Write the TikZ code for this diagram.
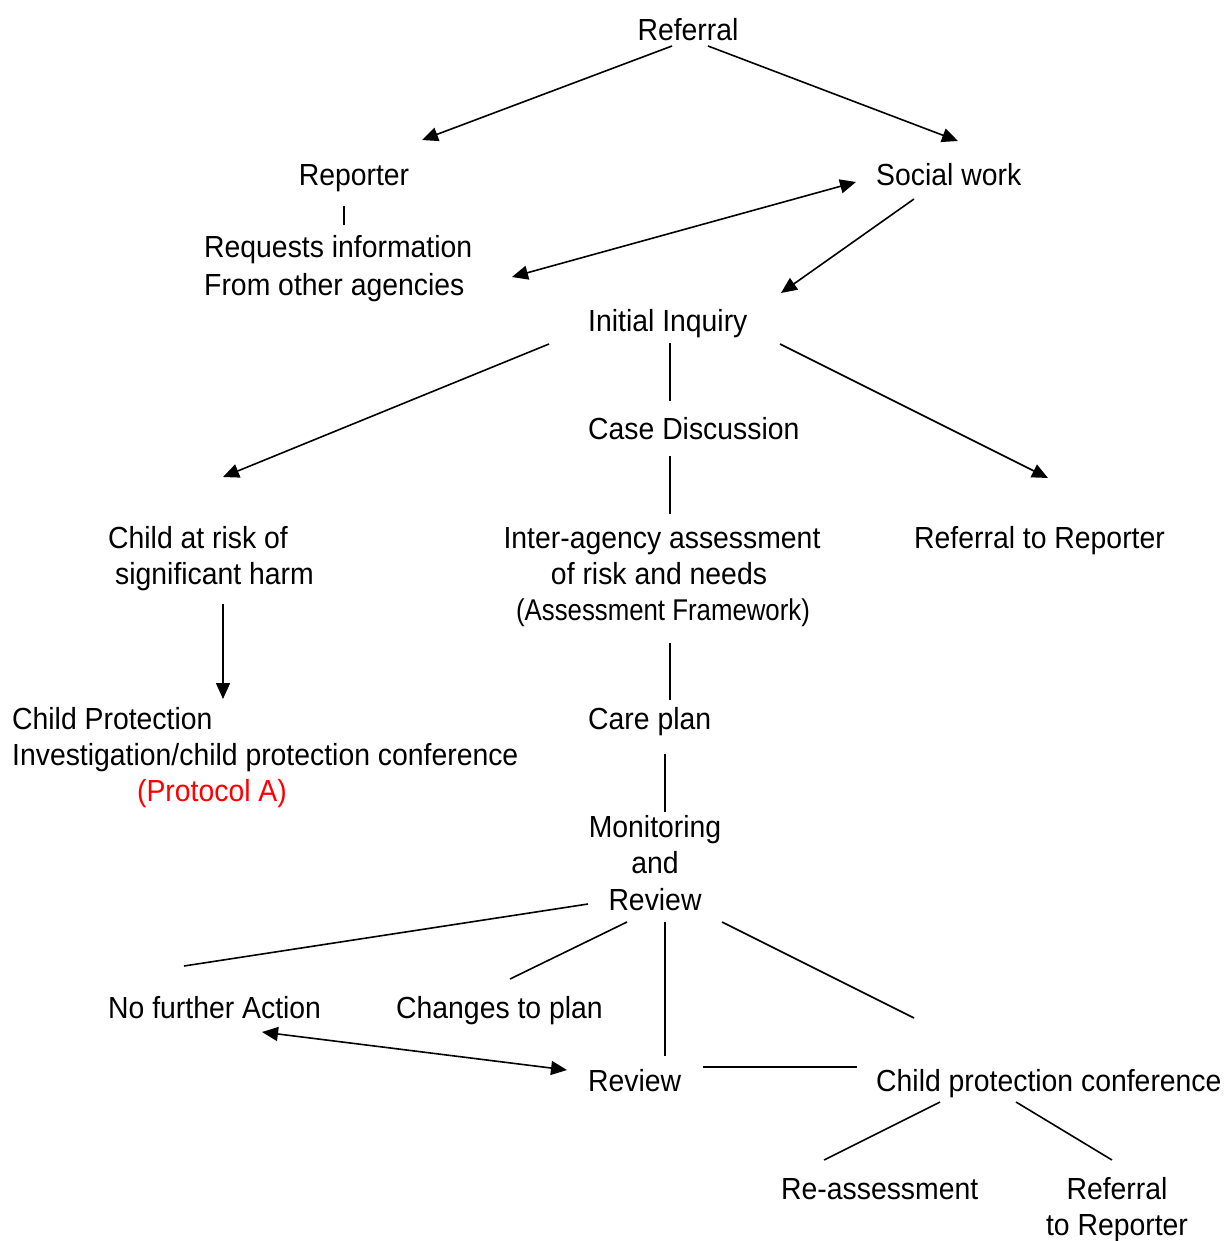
\documentclass[tikz,border=0pt]{standalone}
\usepackage{fontspec}
\setmainfont{Liberation Sans}[FakeStretch=0.93]
\newfontfamily\narrowfont{Liberation Sans}[FakeStretch=0.86]
\usetikzlibrary{arrows.meta}
\begin{document}
\begin{tikzpicture}[x=1pt,y=-1pt,
  txt/.style={inner sep=0pt, font=\fontsize{30.5}{36}\selectfont},
  ln/.style={line width=1.6pt},
  tip/.tip={Triangle[length=16pt,width=14pt]},
  arr/.style={ln,-tip},
  darr/.style={ln,tip-tip}]
\useasboundingbox (0,0) rectangle (1228,1241);
% nodes
\node[txt,anchor=base] (ref) at (688,41) {Referral};
\node[txt,anchor=base] (rep) at (354,186) {Reporter};
\node[txt,anchor=base west] (sw) at (876,186) {Social work};
\node[txt,anchor=base west] (req1) at (204,258) {Requests information};
\node[txt,anchor=base west] (req2) at (204,295) {From other agencies};
\node[txt,anchor=base west] (ii) at (588,331) {Initial Inquiry};
\node[txt,anchor=base west] (cd) at (588,439) {Case Discussion};
\node[txt,anchor=base west] (cr1) at (108,548) {Child at risk of};
\node[txt,anchor=base west] (cr2) at (115,584) {significant harm};
\node[txt,anchor=base] (ia1) at (662,548) {Inter-agency assessment};
\node[txt,anchor=base] (ia2) at (659,584) {of risk and needs};
\node[txt,anchor=base,font=\narrowfont\fontsize{30}{36}\selectfont] (ia3) at (663,620) {(Assessment Framework)};
\node[txt,anchor=base west] (rtr) at (914,548) {Referral to Reporter};
\node[txt,anchor=base west] (cp1) at (12,729) {Child Protection};
\node[txt,anchor=base west] (cp2) at (12,765) {Investigation/child protection conference};
\node[txt,anchor=base,text=red] (cp3) at (212,801) {(Protocol A)};
\node[txt,anchor=base west] (care) at (588,729) {Care plan};
\node[txt,anchor=base] (mon1) at (655,837) {Monitoring};
\node[txt,anchor=base] (mon2) at (655,873) {and};
\node[txt,anchor=base] (mon3) at (655,910) {Review};
\node[txt,anchor=base west] (nfa) at (108,1018) {No further Action};
\node[txt,anchor=base west] (ctp) at (396,1018) {Changes to plan};
\node[txt,anchor=base west] (rev) at (588,1091) {Review};
\node[txt,anchor=base west] (cpc) at (876,1091) {Child protection conference};
\node[txt,anchor=base west] (rea) at (781,1199) {Re-assessment};
\node[txt,anchor=base] (rr1) at (1117,1199) {Referral};
\node[txt,anchor=base] (rr2) at (1117,1235) {to Reporter};
% connector end points
\coordinate (refL) at (672,46);  \coordinate (repT) at (422,140);
\coordinate (refR) at (708,46);  \coordinate (swT) at (958,141);
\coordinate (repB) at (344,206); \coordinate (reqT) at (344,225);
\coordinate (reqR) at (512,277); \coordinate (swL) at (856,182);
\coordinate (swB) at (914,199);  \coordinate (iiT) at (781,293);
\coordinate (iiL) at (549,344);  \coordinate (crT) at (223,477);
\coordinate (iiB) at (670,343);  \coordinate (cdT) at (670,401);
\coordinate (iiR) at (780,344);  \coordinate (rtrT) at (1048,478);
\coordinate (cdB) at (670,456);  \coordinate (iaT) at (670,514);
\coordinate (crB) at (223,604);  \coordinate (cpT) at (223,699);
\coordinate (iaB) at (670,643);  \coordinate (careT) at (670,700);
\coordinate (careB) at (665,754); \coordinate (monT) at (665,812);
\coordinate (monL) at (588,904); \coordinate (nfaT) at (184,966);
\coordinate (monBL) at (627,922); \coordinate (ctpT) at (510,979);
\coordinate (monB) at (665,922); \coordinate (revT) at (665,1056);
\coordinate (monBR) at (722,922); \coordinate (cpcT) at (914,1018);
\coordinate (nfaB) at (262,1032); \coordinate (revL) at (567,1070);
\coordinate (revR) at (703,1067); \coordinate (cpcL) at (857,1067);
\coordinate (cpcBL) at (940,1102); \coordinate (reaT) at (824,1160);
\coordinate (cpcBR) at (1016,1102); \coordinate (rrT) at (1112,1160);
% connectors
\draw[arr] (refL) -- (repT);
\draw[arr] (refR) -- (swT);
\draw[ln] (repB) -- (reqT);
\draw[darr] (reqR) -- (swL);
\draw[arr] (swB) -- (iiT);
\draw[arr] (iiL) -- (crT);
\draw[ln] (iiB) -- (cdT);
\draw[arr] (iiR) -- (rtrT);
\draw[ln] (cdB) -- (iaT);
\draw[arr] (crB) -- (cpT);
\draw[ln] (iaB) -- (careT);
\draw[ln] (careB) -- (monT);
\draw[ln] (monL) -- (nfaT);
\draw[ln] (monBL) -- (ctpT);
\draw[ln] (monB) -- (revT);
\draw[ln] (monBR) -- (cpcT);
\draw[darr] (nfaB) -- (revL);
\draw[ln] (revR) -- (cpcL);
\draw[ln] (cpcBL) -- (reaT);
\draw[ln] (cpcBR) -- (rrT);
\end{tikzpicture}
\end{document}
